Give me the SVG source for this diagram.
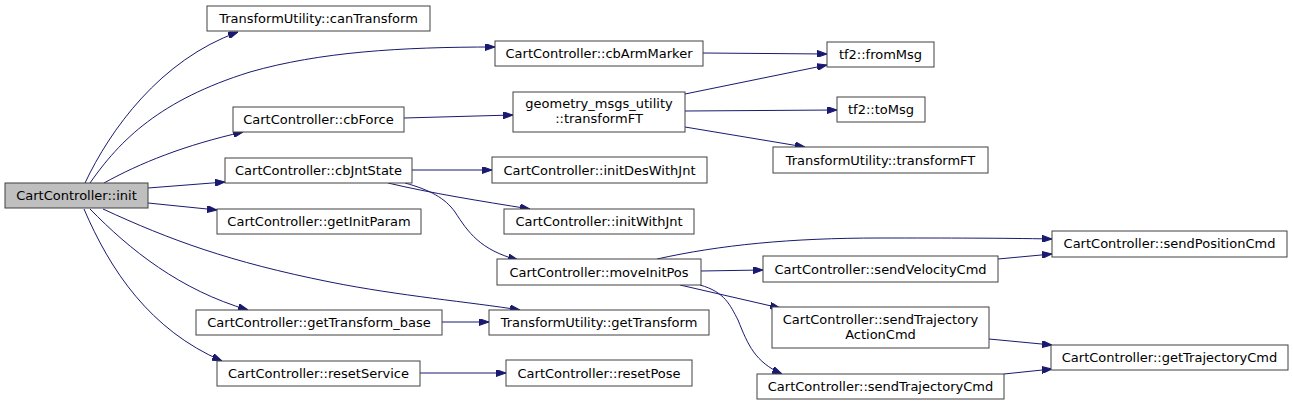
<svg xmlns="http://www.w3.org/2000/svg" width="1293" height="405" viewBox="0 0 1293 405">
<style>
.n rect{fill:#ffffff;stroke:#404040;stroke-width:1}
.root rect{fill:#bfbfbf}
text{font-family:"DejaVu Sans",Verdana,sans-serif;font-size:13px;fill:#000;text-anchor:middle}
.e path{fill:none;stroke:#191970;stroke-width:1;marker-end:url(#ah)}
</style>
<defs>
<marker id="ah" viewBox="0 0 10 7" refX="10" refY="3.5" markerWidth="10" markerHeight="7" markerUnits="userSpaceOnUse" orient="auto">
<path d="M0,0 L10,3.5 L0,7 z" fill="#191970" stroke="#191970" stroke-width="1"/>
</marker>
</defs>
<rect width="1293" height="405" fill="#ffffff"/>
<g id="edges" class="e">
<path d="M85,183 C110,130 160,60 238,32"/>
<path d="M90,183 C120,140 160,100 250,72 C320,52 400,47 495,47"/>
<path d="M104,183 C140,163 185,145 243,132"/>
<path d="M148,188 L225,182"/>
<path d="M148,203 L217,210"/>
<path d="M103,209 C170,240 230,262 330,282 C400,296 470,302 520,310"/>
<path d="M90,209 C130,250 180,290 248,310"/>
<path d="M84,209 C110,270 150,330 222,361"/>
<path d="M703,53 L827,54"/>
<path d="M404,118 L513,115"/>
<path d="M685,94 L827,65"/>
<path d="M685,111 L837,110"/>
<path d="M685,127 L805,147"/>
<path d="M412,170 L492,170"/>
<path d="M388,183 C430,193 480,201 530,209"/>
<path d="M405,183 C430,190 445,198 455,212 C468,232 480,250 518,260"/>
<path d="M701,271 L763,270"/>
<path d="M657,259 C720,245 790,238 880,238 C950,238 1000,238 1052,239"/>
<path d="M680,285 L780,308"/>
<path d="M700,285 C725,292 730,305 738,320 C748,345 755,362 782,374"/>
<path d="M998,259 L1052,254"/>
<path d="M989,339 L1052,345"/>
<path d="M1004,374 L1052,369"/>
<path d="M442,322 L489,322"/>
<path d="M420,373 L506,373"/>
</g>
<g id="init" class="n root"><rect x="5" y="183" width="143" height="25"/><text x="76.5" y="200">CartController::init</text></g>
<g id="canTransform" class="n"><rect x="207" y="6" width="223" height="25"/><text x="318.5" y="23">TransformUtility::canTransform</text></g>
<g id="cbArmMarker" class="n"><rect x="495" y="41" width="208" height="25"/><text x="599" y="58">CartController::cbArmMarker</text></g>
<g id="cbForce" class="n"><rect x="233" y="107" width="171" height="25"/><text x="318.5" y="124">CartController::cbForce</text></g>
<g id="cbJntState" class="n"><rect x="225" y="158" width="187" height="25"/><text x="318.5" y="175">CartController::cbJntState</text></g>
<g id="getInitParam" class="n"><rect x="217" y="209" width="204" height="25"/><text x="319" y="226">CartController::getInitParam</text></g>
<g id="getTransform_base" class="n"><rect x="196" y="310" width="246" height="25"/><text x="319" y="327">CartController::getTransform_base</text></g>
<g id="resetService" class="n"><rect x="217" y="361" width="203" height="25"/><text x="318.5" y="378">CartController::resetService</text></g>
<g id="gmu_transformFT" class="n"><rect x="513" y="92" width="172" height="40"/><text x="599" y="108">geometry_msgs_utility</text><text x="599" y="123">::transformFT</text></g>
<g id="initDesWithJnt" class="n"><rect x="492" y="157" width="215" height="26"/><text x="599.5" y="174.5">CartController::initDesWithJnt</text></g>
<g id="initWithJnt" class="n"><rect x="504" y="209" width="190" height="25"/><text x="599" y="226">CartController::initWithJnt</text></g>
<g id="moveInitPos" class="n"><rect x="497" y="259" width="204" height="26"/><text x="599" y="276.5">CartController::moveInitPos</text></g>
<g id="getTransform" class="n"><rect x="489" y="310" width="220" height="25"/><text x="599" y="327">TransformUtility::getTransform</text></g>
<g id="resetPose" class="n"><rect x="506" y="360" width="186" height="26"/><text x="599" y="377.5">CartController::resetPose</text></g>
<g id="fromMsg" class="n"><rect x="827" y="42" width="107" height="25"/><text x="880.5" y="59">tf2::fromMsg</text></g>
<g id="toMsg" class="n"><rect x="837" y="97" width="88" height="25"/><text x="881" y="114">tf2::toMsg</text></g>
<g id="tu_transformFT" class="n"><rect x="773" y="147" width="215" height="26"/><text x="880.5" y="164.5">TransformUtility::transformFT</text></g>
<g id="sendVelocityCmd" class="n"><rect x="763" y="256" width="235" height="26"/><text x="880.5" y="273.5">CartController::sendVelocityCmd</text></g>
<g id="sendTrajectoryActionCmd" class="n"><rect x="772" y="307" width="217" height="41"/><text x="880.5" y="324">CartController::sendTrajectory</text><text x="880.5" y="339">ActionCmd</text></g>
<g id="sendTrajectoryCmd" class="n"><rect x="757" y="374" width="247" height="25"/><text x="880.5" y="391">CartController::sendTrajectoryCmd</text></g>
<g id="sendPositionCmd" class="n"><rect x="1052" y="231" width="235" height="26"/><text x="1169.5" y="248">CartController::sendPositionCmd</text></g>
<g id="getTrajectoryCmd" class="n"><rect x="1051" y="345" width="237" height="25"/><text x="1169.5" y="362">CartController::getTrajectoryCmd</text></g>
</svg>
